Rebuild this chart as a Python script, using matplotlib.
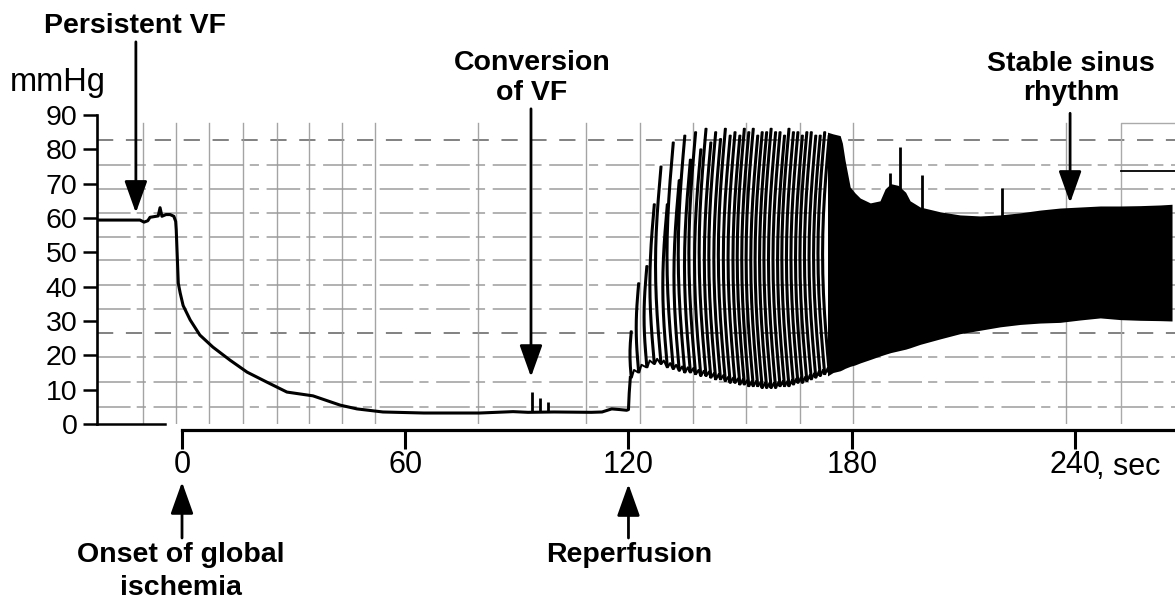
import numpy as np
import matplotlib
matplotlib.use("Agg")
import matplotlib.pyplot as plt

# ---------------- data (read from the recording) ----------------
# pressure trace before reperfusion (s, mmHg)
isch_t = [-22.8, -11.3, -10.2, -9.2, -8.6, -7.5, -6.4, -5.9, -5.4, -4.3, -3.2, -2.2, -1.7,
          -1.55, -1.0, -0.5, 0.3, 2.2, 4.8, 8.3, 12.9, 17.5, 22.8, 28.2, 35.2, 42.5, 47.0,
          54.0, 65.0, 80.0, 89.0, 93.0, 100.0, 110.0, 112.9, 115.5, 117.7, 119.5, 120.0,
          120.2, 120.5]
isch_p = [59.4, 59.4, 58.8, 59.2, 60.2, 60.4, 60.6, 63.0, 60.5, 61.0, 61.0, 60.5, 59.0,
          56.5, 41.0, 38.2, 34.5, 30.3, 25.9, 22.4, 18.6, 15.1, 12.2, 9.3, 8.2, 5.5, 4.4,
          3.5, 3.2, 3.2, 3.6, 3.4, 3.5, 3.4, 3.5, 4.4, 4.2, 4.0, 4.2, 9.0, 13.5]

# small spikes at conversion of VF
conv_t = [94.1, 96.2, 98.4]
conv_peak = [9.3, 7.6, 6.4]

# beats after reperfusion (time, systolic peak, diastolic floor)
beat_t = [120.6, 122.6, 124.8, 126.8, 128.6, 130.3, 131.9, 133.5, 135.0, 136.5, 137.9,
          139.3, 140.7, 142.0, 143.3, 144.6, 145.9, 147.2, 148.5, 149.8, 151.0, 152.2,
          153.4, 154.6, 155.8, 157.0, 158.2, 159.4, 160.6, 161.8, 163.0, 164.2, 165.4,
          166.6, 167.8, 169.0, 170.2, 171.4, 172.6, 173.8]
beat_peak = [27, 41, 46, 64, 75, 64, 82, 71, 84, 77, 85, 80, 86, 82, 85, 83, 86, 84, 85,
             84, 86, 85, 86, 84, 85, 85, 86, 85, 85, 84, 86, 85, 85, 84, 85, 85, 84, 84,
             85, 84]
beat_floor = [13.5, 15.0, 16.5, 17.5, 17.5, 16.5, 16.0, 15.5, 15.0, 15.0, 14.5, 14.0, 14.0,
              13.5, 13.0, 13.0, 12.5, 12.0, 12.0, 11.5, 11.5, 11.0, 11.0, 11.0, 10.5, 10.5,
              10.5, 10.5, 11.0, 11.0, 11.0, 11.5, 12.0, 12.0, 12.5, 13.0, 13.5, 14.0, 14.5,
              15.0]

# dense stable band (upper / lower envelope)
band_t = [173.5, 175.0, 176.9, 177.5, 178.2, 179.6, 180.9, 182.3, 185.0, 187.6, 189.0,
          190.5, 192.5, 194.5, 195.7, 198.4, 203.8, 209.1, 214.5, 219.9, 225.3, 230.6,
          236.0, 241.4, 246.8, 252.2, 257.6, 263.0, 266.1]
band_hi = [85.0, 84.5, 84.0, 81.8, 76.9, 69.0, 67.3, 65.8, 64.4, 65.0, 68.5, 70.0, 69.5,
           67.5, 65.0, 63.2, 61.8, 60.9, 60.6, 60.9, 61.5, 62.3, 62.9, 63.2, 63.5, 63.5,
           63.6, 63.8, 64.0]
band_lo = [14.0, 15.0, 15.5, 15.8, 16.2, 16.8, 17.2, 17.8, 18.8, 19.8, 20.3, 20.8, 21.3,
           21.8, 22.2, 23.2, 24.8, 26.3, 27.3, 28.3, 29.0, 29.4, 29.6, 30.3, 30.9, 30.4,
           30.2, 30.1, 30.0]

# extrasystolic spikes above the band
spike_t = [190.3, 193.0, 198.9, 220.4]
spike_top = [73.0, 80.7, 72.5, 68.7]

# axis ticks
xticks = [0, 60, 120, 180, 240]
xticklabels = ["0", "60", "120", "180", "240"]
yticks = [0, 10, 20, 30, 40, 50, 60, 70, 80, 90]

# chart-paper grid of the scanned recording
grid_h = [5.0, 12.2, 19.5, 26.5, 33.5, 40.5, 47.8, 54.5, 61.5, 68.5, 75.4, 82.7]
grid_h_dashed = [26.5, 82.7]
grid_v = [-10.5, -1.6, 7.2, 16.4, 25.5, 34.0, 42.9, 52.0, 79.6, 108.6, 123.0, 137.3,
          151.5, 166.2, 180.4, 237.5]

# ---------------- figure ----------------
plt.rcParams["font.family"] = ["Liberation Sans", "DejaVu Sans"]
W, H = 1175, 599
fig = plt.figure(figsize=(W / 100, H / 100), dpi=100)
XMIN, XMAX = -22.85, 266.9
ax = fig.add_axes([97 / W, 1 - 424 / H, 1078 / W, 309 / H])
ax.set_xlim(XMIN, XMAX)
ax.set_ylim(0, 90)


def px(x, y):
    return x / W, 1 - y / H


# grid
for g in grid_h:
    if g in grid_h_dashed:
        ax.plot([XMIN, XMAX], [g, g], color="#777777", lw=1.3,
                ls=(0, (9, 7)), zorder=1)
    else:
        ax.plot([XMIN, XMAX], [g, g], color="#8c8c8c", lw=1.1,
                ls=(0, (22, 4, 6, 5)), alpha=0.85, zorder=1)
for g in grid_v:
    ax.plot([g, g], [0.3, 87.6], color="#9a9a9a", lw=1.0, alpha=0.9, zorder=1)
# frame fragment at the right of the paper
ax.plot([252.5, 252.5, XMAX], [0.3, 87.7, 87.7], color="#aaaaaa", lw=1.0, zorder=1)
ax.plot([252.5, XMAX], [73.7, 73.7], color="black", lw=1.3, zorder=1)

# trace before reperfusion
ax.plot(isch_t, isch_p, color="black", lw=2.2, zorder=3, solid_joinstyle="round")
ax.vlines(conv_t, 3.5, conv_peak, color="black", lw=2.0, zorder=3)

# beats after reperfusion (pen-recorder strokes, bowed like "(" arcs)
rt, rp = [isch_t[-1]], [isch_p[-1]]
for i, (tb, pk, fl) in enumerate(zip(beat_t, beat_peak, beat_floor)):
    frac = np.linspace(0, 1, 13)
    bow = 1.8 * (pk - fl) / 70.0 * np.sin(np.pi * frac)
    rt.extend(list(tb - bow))
    rp.extend(list(fl + (pk - fl) * frac))
    rt.extend(list((tb + 0.3 - bow)[::-1]))
    rp.extend(list((fl + (pk - fl) * frac)[::-1]))
    nxt = beat_floor[i + 1] if i + 1 < len(beat_floor) else fl
    rt.append(tb + 0.9)
    rp.append((fl + nxt) / 2 + 1.5)
ax.plot(rt, rp, color="black", lw=1.4, zorder=3)

# dense band
ax.fill_between(band_t, band_lo, band_hi, color="black", lw=0, zorder=3)
ax.vlines(spike_t, 60, spike_top, color="black", lw=2.0, zorder=3)

# axes styling
for s in ["top", "right"]:
    ax.spines[s].set_visible(False)
ax.spines["left"].set_bounds(0, 90)
ax.spines["left"].set_linewidth(1.9)
ax.spines["bottom"].set_position(("outward", 4))
ax.spines["bottom"].set_bounds(0, XMAX)
ax.spines["bottom"].set_linewidth(2.3)
ax.set_xticks(xticks)
ax.set_xticklabels(xticklabels)
ax.set_yticks(yticks)
ax.tick_params(axis="x", direction="out", length=13.5, width=2.2, labelsize=22, pad=1)
ax.tick_params(axis="y", direction="out", length=10, width=1.8, labelsize=20.5, pad=4)
ax.plot([XMIN, -4.6], [0, 0], color="black", lw=1.8, clip_on=False, zorder=4)
ax.annotate(", sec", xy=(240, 0), xycoords=("data", "axes fraction"),
            xytext=(15.5, -20.5), textcoords="offset points", ha="left", va="top",
            fontsize=22)

# labels
fig.text(*px(10, 91), "mmHg", fontsize=23.5, ha="left", va="baseline")
bold = dict(fontsize=20.5, fontweight="bold", ha="center", va="baseline")
fig.text(*px(135.5, 33), "Persistent VF", **bold)
fig.text(*px(532, 70), "Conversion", **bold)
fig.text(*px(532, 100), "of VF", **bold)
fig.text(*px(1071, 71), "Stable sinus", **bold)
fig.text(*px(1071, 100), "rhythm", **bold)
fig.text(*px(181, 562), "Onset of global", **bold)
fig.text(*px(181, 595), "ischemia", **bold)
fig.text(*px(629, 562), "Reperfusion", **bold)

# arrows
arw = dict(arrowstyle="-|>,head_length=1.4,head_width=0.5", color="black", lw=2.0,
           mutation_scale=14, shrinkA=0, shrinkB=0)
for tip, tail in [((-12.4, 61.5), (-12.4, 111.3)),
                  ((93.8, 13.7), (93.8, 91.8)),
                  ((238.7, 64.4), (238.7, 90.5)),
                  ((0, -16.9), (0, -33.2)),
                  ((120, -17.5), (120, -33.2))]:
    ax.annotate("", xy=tip, xytext=tail, arrowprops=arw, annotation_clip=False)

fig.savefig("out.png", dpi=100)
